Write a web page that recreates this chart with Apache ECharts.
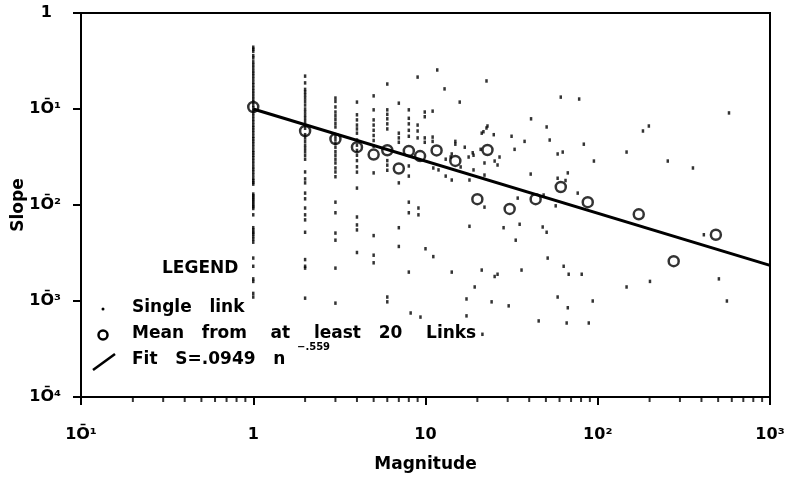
<!DOCTYPE html>
<html>
<head>
<meta charset="utf-8">
<script src="https://cdn.jsdelivr.net/npm/echarts@6/dist/echarts.min.js"></script>
<style>html,body{margin:0;padding:0;background:#fff}#c{width:796px;height:483px}</style>
</head>
<body>
<div id="c"></div>
<script>
// ---- data ----
const xTickLabels = ['1\u014C\u00b9', '1', '10', '10\u00b2', '10\u00b3'];
const yTickLabels = ['1\u014C\u2074', '1\u014C\u00b3', '1\u014C\u00b2', '1\u014C\u00b9', '1'];
const xMinorTicks = [0.2,0.3,0.4,0.5,0.6,0.7,0.8,0.9,2,3,4,5,6,7,8,9,20,30,40,50,60,70,80,90,200,300,400,500,600,700,800,900];

// single links stacked at integer magnitudes
const stripeMagnitudes = [1, 2, 3, 4, 5, 6, 7, 8];
const stripe1 = [0.44,0.42,0.40,0.36,0.34,0.31,0.29,0.27,0.25,0.235,0.22,0.205,0.19,0.178,0.166,0.155,0.145,0.135,0.126,0.118,0.11,0.103,0.096,0.09,0.084,0.078,0.073,0.068,0.064,0.06,0.056,0.052,0.049,0.046,0.043,0.04,0.037,0.035,0.033,0.031,0.029,0.027,0.025,0.0235,0.022,0.0205,0.019,0.018,0.0172,0.0165,0.013,0.0125,0.012,0.0115,0.011,0.0105,0.01,0.0096,0.0092,0.0079,0.0058,0.0055,0.0052,0.005,0.0047,0.0044,0.0041,0.0028,0.0023,0.0017,0.0016,0.0012,0.0011];
const stripe2 = [0.22,0.187,0.16,0.15,0.14,0.13,0.12,0.11,0.1,0.093,0.086,0.08,0.074,0.068,0.063,0.054,0.05,0.046,0.042,0.039,0.036,0.033,0.03,0.0221,0.0187,0.017,0.0133,0.0116,0.0093,0.0079,0.007,0.0052,0.0027,0.0023,0.0022,0.00107];
const stripe3 = [0.13,0.12,0.105,0.093,0.085,0.078,0.071,0.065,0.052,0.048,0.044,0.04,0.036,0.033,0.03,0.0274,0.0243,0.0221,0.0197,0.0107,0.0083,0.0051,0.0043,0.0022,0.00095];
const stripe4 = [0.118,0.087,0.077,0.068,0.062,0.056,0.0475,0.042,0.037,0.033,0.029,0.025,0.022,0.015,0.0075,0.0062,0.0055,0.0032];
const stripe5 = [0.137,0.098,0.077,0.068,0.06,0.053,0.047,0.041,0.0216,0.0048,0.003,0.0025];
const stripe6 = [0.182,0.098,0.088,0.079,0.07,0.062,0.029,0.026,0.023,0.0011,0.00098];
const stripe7 = [0.115,0.056,0.05,0.045,0.017,0.0058,0.0037];
const stripe8 = [0.098,0.08,0.07,0.06,0.052,0.0255,0.02,0.0107,0.0083,0.002];

// other single links [magnitude, slope]
const scatteredLinks = [
 [9,0.215],[9,0.068],[9,0.059],[9,0.05],[9.1,0.0093],[9.1,0.0079],[8.2,0.00075],[9.35,0.00068],
 [11.7,0.255],[22.6,0.196],[12.9,0.162],[15.8,0.118],[9.9,0.093],[9.9,0.083],[11.0,0.095],
 [61,0.133],[78,0.127],[41,0.079],[50.5,0.065],[22.9,0.0665],[22.6,0.0634],[21.2,0.056],[21.7,0.058],
 [24.9,0.054],[31.6,0.052],[37.6,0.046],[52.6,0.0475],[83,0.043],[9.9,0.05],[9.9,0.045],[11,0.051],[11,0.046],
 [14.9,0.046],[14.9,0.043],[16.9,0.04],[20.9,0.038],[18.8,0.035],[19,0.033],[17.8,0.0316],[32.9,0.038],
 [58.5,0.034],[62.6,0.0356],[95,0.0287],[26.9,0.0316],[14.2,0.034],[14,0.0316],[13.1,0.03],[25.2,0.0287],
 [26.2,0.0261],[22,0.0274],[11.1,0.0243],[11.9,0.0232],[16,0.0249],[19,0.0232],[13.1,0.02],[14.2,0.0182],
 [18,0.0182],[22,0.0205],[40.8,0.021],[67,0.0216],[58.5,0.019],[65,0.018],[22,0.0095],[34.3,0.0118],
 [48.5,0.0127],[57,0.0098],[76.5,0.0133],[18,0.006],[28.4,0.0058],[35.2,0.0063],[47.9,0.0059],[50.5,0.0052],
 [33.4,0.0043],[10,0.0035],[11.1,0.0029],[51.2,0.0028],[63.4,0.0023],[67.8,0.0019],[80.7,0.0019],[14.2,0.002],
 [21.2,0.0021],[25.2,0.0018],[26.2,0.0019],[36.1,0.0021],[19.3,0.0014],[17.3,0.00105],[24.2,0.00098],
 [30.4,0.00089],[58.5,0.0011],[67,0.00085],[93.5,0.001],[17.3,0.0007],[45.4,0.00062],[66,0.00059],[88.7,0.00059],
 [578,0.091],[183,0.059],[198,0.0665],[147,0.0356],[255,0.0287],[357,0.0243],[413,0.0049],[147,0.0014],
 [201,0.0016],[505,0.0017],[562,0.001],[21.4,0.00045]
];

// means from at least 20 links
const meanMagnitude = [1,2,3,4,5,6,7,8,9.3,11.6,14.9,20,22.9,30.8,43.6,61,87.5,173,276,485];
const meanSlope = [0.105,0.059,0.0487,0.040,0.0335,0.0372,0.0240,0.0365,0.0323,0.037,0.0288,0.0115,0.0374,0.0091,0.0115,0.0154,0.0107,0.0080,0.0026,0.0049];

// fit line end points
const fitMagnitude = [1, 1000];
const fitSlope = [0.1, 0.00235];

// ---- build ----
const stripes = [stripe1, stripe2, stripe3, stripe4, stripe5, stripe6, stripe7, stripe8];
const linkData = [];
stripes.forEach((arr, i) => arr.forEach(v => linkData.push([stripeMagnitudes[i], v])));
scatteredLinks.forEach(p => linkData.push(p));
const meanData = meanMagnitude.map((m, i) => [m, meanSlope[i]]);
const fitData = fitMagnitude.map((m, i) => [m, fitSlope[i]]);

const FONT = 'DejaVu Sans';
const chart = echarts.init(document.getElementById('c'), null, {renderer: 'canvas'});

function xLabel(v) {
  const k = Math.round(Math.log10(v)) + 1;
  return xTickLabels[k] !== undefined ? xTickLabels[k] : '';
}
function yLabel(v) {
  const k = Math.round(Math.log10(v)) + 4;
  const s = yTickLabels[k] !== undefined ? yTickLabels[k] : '';
  return s === '1' ? '{p|1}' : s;
}

chart.setOption({
  animation: false,
  backgroundColor: '#fff',
  textStyle: {fontFamily: FONT},
  grid: {left: 81, right: 26, top: 13, bottom: 86, containLabel: false, outerBoundsMode: 'none',
         show: true, borderColor: '#000', borderWidth: 2},
  xAxis: {
    type: 'log', logBase: 10, min: 0.1, max: 1000,
    name: 'Magnitude', nameLocation: 'middle', nameGap: 59, nameMoveOverlap: false,
    nameTextStyle: {fontFamily: FONT, fontWeight: 'bold', fontSize: 17, color: '#000'},
    axisLine: {lineStyle: {color: '#000', width: 2}},
    axisTick: {show: true, inside: false, length: 8, lineStyle: {color: '#000', width: 2}},
    axisLabel: {formatter: xLabel, margin: 30, fontFamily: FONT, fontWeight: 'bold', fontSize: 16, color: '#000'},
    splitLine: {show: false}, minorTick: {show: false}
  },
  yAxis: {
    type: 'log', logBase: 10, min: 0.0001, max: 1,
    name: 'Slope', nameLocation: 'middle', nameGap: 54, nameRotate: 90, nameMoveOverlap: false,
    nameTextStyle: {fontFamily: FONT, fontWeight: 'bold', fontSize: 17, color: '#000'},
    axisLine: {lineStyle: {color: '#000', width: 2}},
    axisTick: {show: true, inside: false, length: 8, lineStyle: {color: '#000', width: 2}},
    axisLabel: {formatter: yLabel, margin: 20, fontFamily: FONT, fontWeight: 'bold', fontSize: 16, color: '#000',
      rich: {p: {fontFamily: FONT, fontWeight: 'bold', fontSize: 16, color: '#000', padding: [0, 9, 0, 0]}}},
    splitLine: {show: false}
  },
  series: [
    {type: 'scatter', name: 'Single link', data: linkData, symbol: 'rect', symbolSize: [2.5, 3.5],
     itemStyle: {color: '#000'}, silent: true, z: 2},
    {type: 'line', name: 'Fit', data: fitData, showSymbol: false, symbol: 'none',
     lineStyle: {color: '#000', width: 3}, silent: true, z: 3},
    {type: 'scatter', name: 'Mean from at least 20 Links', data: meanData, symbol: 'circle', symbolSize: 10,
     itemStyle: {color: 'rgba(0,0,0,0)', borderColor: '#000', borderWidth: 2.5}, silent: true, z: 4},
    {type: 'scatter', name: 'minor ticks', data: xMinorTicks.map(v => [v, 0.0001]), symbol: 'rect',
     symbolSize: [2, 5], symbolOffset: [0, 2.5], clip: false, itemStyle: {color: '#000'}, silent: true, z: 5}
  ],
  graphic: [
    {type: 'text', left: 162, top: 260, style: {text: 'LEGEND', font: 'bold 17px "DejaVu Sans"', fill: '#000'}},
    {type: 'circle', shape: {cx: 103, cy: 309, r: 1.5}, style: {fill: '#000'}},
    {type: 'text', left: 132, top: 299, style: {text: 'Single   link', font: 'bold 17px "DejaVu Sans"', fill: '#000'}},
    {type: 'circle', shape: {cx: 103, cy: 335, r: 4.5}, style: {fill: 'none', stroke: '#000', lineWidth: 2.5}},
    {type: 'text', left: 132, top: 325, style: {text: 'Mean   from    at    least   20    Links', font: 'bold 17px "DejaVu Sans"', fill: '#000'}},
    {type: 'line', shape: {x1: 93, y1: 370, x2: 115, y2: 354}, style: {stroke: '#000', lineWidth: 2.5}},
    {type: 'text', left: 132, top: 351, style: {text: 'Fit   S=.0949   n', font: 'bold 17px "DejaVu Sans"', fill: '#000'}},
    {type: 'text', left: 297, top: 342, style: {text: '\u2212.559', font: 'bold 10px "DejaVu Sans"', fill: '#000'}}
  ]
});
</script>
</body>
</html>
